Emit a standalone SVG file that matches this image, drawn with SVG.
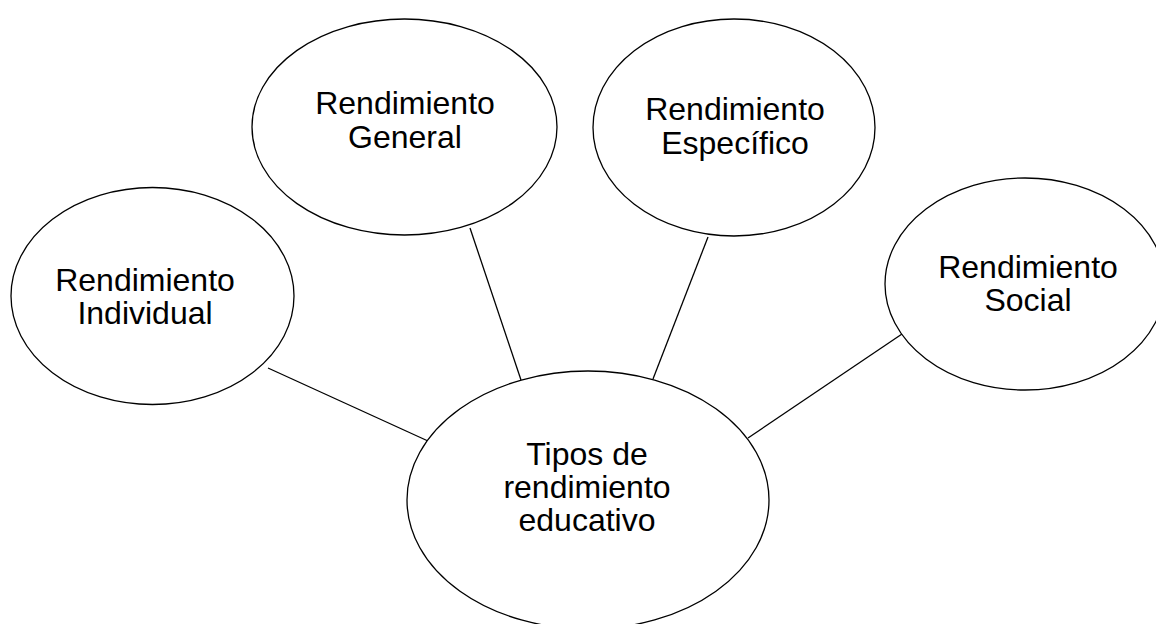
<svg xmlns="http://www.w3.org/2000/svg" width="1156" height="624" viewBox="0 0 1156 624">
<style>
.n{fill:#fff;stroke:#000;stroke-width:1.3}
.t{font-family:"Liberation Sans",Arial,sans-serif;font-size:32px;fill:#000;text-anchor:middle}
.c{stroke:#000;stroke-width:1.3;fill:none}
</style>
<rect width="1156" height="624" fill="#fff"/>
<g id="connectors">
<line class="c" x1="268" y1="368" x2="428" y2="441"/>
<line class="c" x1="470" y1="228" x2="521" y2="380"/>
<line class="c" x1="708" y1="237" x2="653" y2="379"/>
<line class="c" x1="902" y1="334" x2="748" y2="438"/>
</g>
<g id="individual">
<ellipse class="n" cx="152.5" cy="296" rx="141.5" ry="108.5"/>
<text class="t" x="145" y="291">Rendimiento</text>
<text class="t" x="145" y="324">Individual</text>
</g>
<g id="general">
<ellipse class="n" cx="404.5" cy="127" rx="152.5" ry="108"/>
<text class="t" x="405" y="114">Rendimiento</text>
<text class="t" x="405" y="148">General</text>
</g>
<g id="especifico">
<ellipse class="n" cx="734" cy="127.5" rx="141" ry="108.5"/>
<text class="t" x="735" y="120">Rendimiento</text>
<text class="t" x="735" y="154">Específico</text>
</g>
<g id="social">
<ellipse class="n" cx="1025" cy="284" rx="140" ry="106"/>
<text class="t" x="1028" y="278">Rendimiento</text>
<text class="t" x="1028" y="311">Social</text>
</g>
<g id="tipos">
<ellipse class="n" cx="588" cy="500" rx="181" ry="129"/>
<text class="t" x="587" y="465">Tipos de</text>
<text class="t" x="587" y="498">rendimiento</text>
<text class="t" x="587" y="531">educativo</text>
</g>
</svg>
